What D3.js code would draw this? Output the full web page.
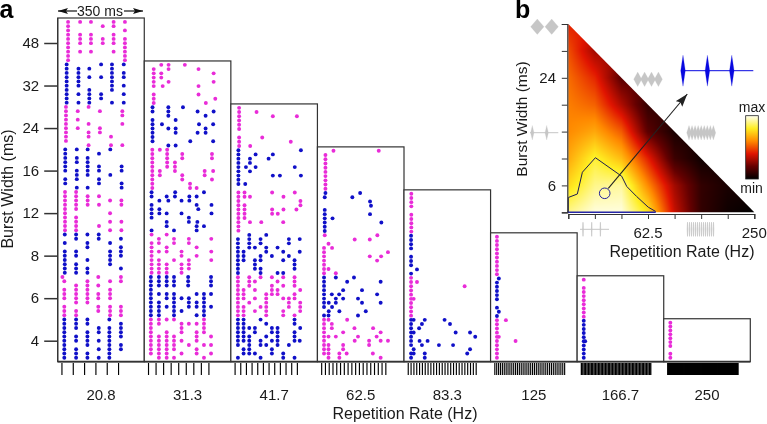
<!DOCTYPE html>
<html><head><meta charset="utf-8">
<script src="https://cdn.jsdelivr.net/npm/d3@7/dist/d3.min.js"></script>
<style>html,body{margin:0;padding:0;background:#fff}
#w{position:relative;width:767px;height:424px;overflow:hidden}
canvas,svg{position:absolute;left:0;top:0}
text{font-family:"Liberation Sans",Arial,sans-serif;fill:#1a1a1a}</style></head>
<body><div id="w"></div>
<script>
// ---- data ----
const rateLabels=["20.8","31.3","41.7","62.5","83.3","125","166.7","250"];
const periodsMs=[48,32,24,16,12,8,6,4];
const pulseCounts=[6,9,12,18,25,38,50,75];
const bandCounts=[8,7,6,5,4,3,2,1];
const widthTicks=[4,6,8,12,16,24,32,48];
// each row: [trial row counted from the bottom, spike times in ms...]
const spikes208=[[79,44,95,141,237,285],[78,44,191,237],[77,44,285],[76,44,95,141,237],[75,44,95,141,191,237,285],[74,44,95,141,191,237,285],[73,44,285],[72,44,95,141,237,285],[71,44,285],[70,44,285],
[69,38,184,230,280],[68,38,88,134,230],[67,38,88,230,280],[66,38,88,134,184,230,280],[65,38,88,230],[64,38,88,230,280],[63,38,134,230],[62,38,88,134,184,280],[61,38,134,184],[60,38,88,134,230,280],
[59,35,131],[58,35,85,179,274],[57,35,274],[56,35,85],[55,35,131,274],[54,35,85,179],[53,35,131,179],[52,35,131,226],[51,35],[50,131,226,274],
[49,32,81,127,223],[48,32,175],[47,32,81,127],[46,32,81,127],[45,32,127,175,271],[44,32,81,127,175,271],[43,81,127,223],[42,32,81,175],[41,32,175,271],[40,81,127,271],
[39,31,78],[38,31,78,127,175],[37,31,78,127,222,270],[36,31,78,127,175,270],[35,31,78],[34,31,222],[33,31,78],[32,31,78,222,270],[31,31,78,175],[30,31,78,222,270],
[29,30,78,126,174],[28,78,174,268],[27,30,126,222],[26,126,268],[25,30,78,222,268],[24,30,78,222,268],[23,30,126,222],[22,30,78,222],[21,30,78,126,268],[20,30,78,126],
[19,20,172,268],[18,28,126,222,268],[17,78,126,172],[16,28,78,126,222],[15,28,78,126,172,222],[14,28,78,126,172,222],[13,78,126],[12,28,172,222,268],[11,28,78,172,222,268],[10,28,78,222,268],
[9,28,78,126,219],[8,28,78,126,268],[7,28,78,174,219,268],[6,28,126,174,219,268],[5,28,78,126,219,268],[4,28,78,126,174,219],[3,28,126,219,268],[2,28,78,174,219,268],[1,28,78,126,219],[0,28,78,126,174,219]];
const spikes313=[[69,72,103,172],[68,40,103,230],[67,40,72,294],[66,40,72],[65,40,103,294],[64,40,78,230],[62,40,230],[61,40,301],[60,40,261],
[59,35,102,164],[58,35,102,226,294],[57,102,260],[56,35,133],[55,35,75,232,292],[54,35,102,133,260],[53,35,133,226,260],[52,35],[51,35,195,292],[50,102,133],
[49,34,66,97],[48,34,97,161,287],[47,34,97,161,287],[46,34,97,130],[45,34,97,130],[44,34,66,130,256,292],[43,34,66,161,256],[42,34,161,287],[41,34,194],[40,34,194,222],
[39,31,131,253],[38,31,95,130,191,222],[37,64,102,158,191],[36,31,222,285],[35,31,64,229],[34,31,64,95,158,285],[33,31,189],[32,95,189,225],[31,95,222,253],[30,31,126,222],
[29,31,95],[28,62,126,189,284],[27,31,62,126,189],[26,31,95,222],[25,31,62,95,158,284],[24,31,158,222],[23,31,62,126,189,284],[22,31,62,95,158,189],[21,31,62,95,158,189],[20,31,62,95,158],
[19,28,62,95,126,186,283],[18,28,62,95,126,186,283],[17,28,62,95,126,186,283],[16,28],[15,28,62,95,126,222,253,283],[14,28,95,126,158,189,253],[13,28,62,126,189,222,253],[12,28,62,95,126,189,222,253,283],[11,28,62,126,158,253],[10,28,62,126,222,253],
[9,28,62,95,126,253],[8,28,62,158,189,222,253],[7,28,158,253],[6,28,95,158,222,253],[5,28,62,95,126,222,283],[4,28,62,95,126,158,222],[3,28,62,95,126,189,253,283],[2,28,62,95,126,222],[1,28,62,95,158,222,283],[0,62,95,126,253]];
const spikes417=[[59,35],[58,35,109],[57,35,178,280],[56,35],[55,35],[54,35],[52,35,133],[51,35,254],[50,35,82],
[49,32,297],[48,32,105,178],[47,32,81,160],[46,32,81],[45,32,64,105,271],[44,32,81],[43,32,178,208,297],[42,32],[41,32,61],
[39,32,58,175,271],[38,32,58,81,223],[37,32,295],[36,32,58,295],[35,32,58,175,223,278],[34,32,58,175,199],[33,32,58],[32,32,81,129,222],[31,32],[30,32],
[29,78,150],[28,30,78,126,246,292],[27,30,78,126,246],[26,30,78,102,150,198],[25,30,54,150,222,292],[24,30,54,126,174,246],[23,30,54,102,126,222,270],[22,30,102,270],[21,30,102,126,270],[20,30,126,198,222],
[19,30,78,126,174,222,270],[18,30,78,102,198,270],[17,30,78,174,222,270],[16,30,54,102,174,198,294],[15,30,54,150,174,198,270],[14,30,54,102,150,222,246,270],[13,30,78,150,246,294],[12,30,54,126,150,246,294],[11,30,54,102,150,222,294],[10,30,54,150,222,270],
[9,30,54,126,270],[8,30,54,150,270],[7,30,54,78,102,174,198,294],[6,30,54,102,174,198,270],[5,30,54,78,150,198,270],[4,30,54,78,126,174,198,270,292],[3,30,78,126,150,198,246],[2,54,78,174],[1,54,78,102,174,222],[0,30,126,222,270]];
const spikes625=[[49,68,260],[48,34],[47,34],[46,34],[45,34],[44,34],[43,34],[42,34],[41,34],[40,34],
[39,34,181],[38,31,148],[37,223],[36,227],[35,31],[34,31,223],[33,31,64],[32,31,271],[31,31],[30,31],
[29,31,254],[28,158,222],[27,47],[26,28,62],[25,28,299],[24,28,222,270],[23,28,253],[22,28],[21,28,47],[20,28,78],
[19,28,78,155],[18,28,126,268],[17,28],[16,28,109,189],[15,28,61,92,253],[14,28,78,109,172],[13,28,48,78,189,268],[12,28,62],[11,48,93,205],[10,28,47,172],
[9,28,47,126],[8,28,61],[7,28,61,157,236],[6,28,109,268],[5,28,47,78,172,251],[4,28,158,219,268,299],[3,28,47,109,219],[2,28,47,109],[1,28,47,93,124,235],[0,47,93,268]];
const spikes833=[[39,31],[38,31],[37,31],[36,31],[34,31],[33,31],[32,31],[31,31],[30,31],
[29,30],[28,30],[27,30],[26,30],[24,30],[23,30],[22,30],[21,55],[20,30],
[19,30],[18,30,55],[17,30,257],[16,30],[15,30],[14,30,41],[13,30],[12,30],[11,30],[10,30],
[9,30,41,88,172],[8,30,76,195],[7,30,64],[6,30,41,219,280],[5,30,302],[4,30,66,100],[3,30,76,148,208],[2,41,280],[1,30,41,88,268],[0,30,88]];
const spikes125=[[29,27],[28,27],[27,27],[26,27],[25,27],[24,27],[23,27],[22,27],[21,27],[20,27],
[19,35],[18,27],[17,27],[16,27],[15,27],[14,27],[12,27],[11,35],[10,27],
[9,27,65],[8,27],[7,27],[6,27],[5,27,35],[4,27,106],[3,27],[2,27],[1,27],[0,27]];
const spikes1667=[[19,28],[17,28],[16,28],[15,28],[14,28],[13,28],[12,28],[11,28],[10,28],
[9,28],[8,28],[7,28],[6,28],[5,28],[4,28,34],[3,28],[2,28],[1,28],[0,28]];
const spikes250=[[9,28],[8,28],[7,28],[6,28],[5,28],[4,28],[3,28],[1,28],[0,28]];
const allSpikes=[spikes208,spikes313,spikes417,spikes625,spikes833,spikes125,spikes1667,spikes250];
// response map: heat[w][r], burst-width index from the bottom, repetition-rate index
const heat=[[.90,.98,.98,.78,.36,.10,.03,0],
[.76,.90,.92,.60,.30,.10,.05],
[.66,.82,.70,.42,.12,.03],
[.60,.66,.52,.18,.05],
[.58,.53,.32,.10],
[.55,.43,.18],
[.50,.30],
[.42]];
const contourRate=[0,0,.34,.53,1.02,2.01,2.2,2.57,3.01,3.29];
const contourWidth=[0,.55,.68,1.49,2.03,1.34,.96,.59,.19,.03];

// ---- layout ----
const W=767,H=424;
const wrap=d3.select("#w");
const canvas=wrap.append("canvas").attr("width",W).attr("height",H);
const svg=wrap.append("svg").attr("width",W).attr("height",H);
const ink="#333", magenta="#e92cd8", blue="#1010c8";
const plotL=57.7,plotR=750.3,plotB=361.7;
const xBand=d3.scaleBand().domain(rateLabels).range([plotL,plotR]);
const yBands=d3.scaleLinear().domain([0,8]).range([plotB,18]);
const yTicks=d3.scalePoint().domain(widthTicks).range([340.7,43]);

// ---- panel a ----
const msScale=d3.scaleLinear().domain([0,367]).range([0,xBand.bandwidth()]);
rateLabels.forEach((lab,p)=>{
  const g=svg.append("g").attr("transform",`translate(${xBand(lab)},0)`);
  const n=bandCounts[p];
  const boxTop=yBands(n);
  g.append("rect").attr("x",0).attr("y",boxTop).attr("width",xBand.bandwidth()).attr("height",plotB-boxTop)
    .attr("fill","#fff").attr("stroke",ink).attr("stroke-width",1.2);
  const rowY=d3.scaleLinear().domain([0,n*10-1]).range([357.7,boxTop+3.9]);
  const pts=allSpikes[p].flatMap(row=>row.slice(1).map(ms=>({row:row[0],ms})));
  g.selectAll("circle").data(pts).join("circle")
    .attr("cx",d=>msScale(d.ms)).attr("cy",d=>rowY(d.row)).attr("r",1.95)
    .attr("fill",d=>((n-1-Math.floor(d.row/10))%2===0)?magenta:blue);
  const pulses=d3.range(pulseCounts[p]).map(k=>18+k*periodsMs[p]);
  g.selectAll("line.pulse").data(pulses).join("line").attr("class","pulse")
    .attr("x1",d=>msScale(d)).attr("x2",d=>msScale(d)).attr("y1",363).attr("y2",375)
    .attr("stroke","#000").attr("stroke-width",p===7?1.8:p===6?1.35:1.15);
});
svg.append("line").attr("x1",plotL).attr("x2",plotR).attr("y1",plotB).attr("y2",plotB).attr("stroke",ink).attr("stroke-width",1.8);
svg.append("line").attr("x1",plotL).attr("x2",plotL).attr("y1",18).attr("y2",plotB).attr("stroke",ink).attr("stroke-width",1.2);

const axL=svg.append("g").attr("transform",`translate(${plotL},0)`).call(d3.axisLeft(yTicks).tickSize(13.5).tickPadding(5));
axL.select(".domain").remove();
axL.selectAll("line").attr("stroke",ink).attr("stroke-width",1.5);
axL.selectAll("text").attr("font-size",15);
const axB=svg.append("g").attr("transform",`translate(0,385)`).call(d3.axisBottom(xBand).tickSize(0).tickPadding(0));
axB.select(".domain").remove();
axB.selectAll("text").attr("font-size",15).attr("dy",0).attr("y",15);

const title=(x,y,s,rot,size=16)=>svg.append("text").attr("text-anchor","middle")
  .attr("transform",`translate(${x},${y})${rot?" rotate(-90)":""}`).attr("font-size",size).text(s);
title(405,419,"Repetition Rate (Hz)");
title(13,189,"Burst Width (ms)",true);
svg.append("text").attr("x",-0.5).attr("y",18).attr("font-size",25).attr("font-weight","bold").style("fill","#000").text("a");
svg.append("text").attr("x",515).attr("y",17.5).attr("font-size",25).attr("font-weight","bold").style("fill","#000").text("b");
svg.append("text").attr("x",100).attr("y",16).attr("text-anchor","middle").attr("font-size",14).text("350 ms");
const defs=svg.append("defs");
const mk=defs.append("marker").attr("id","h").attr("viewBox","0 0 10 6").attr("refX",10).attr("refY",3)
  .attr("markerWidth",10).attr("markerHeight",6).attr("markerUnits","userSpaceOnUse").attr("orient","auto-start-reverse");
mk.append("path").attr("d","M0 0L10 3L0 6L2 3Z").attr("fill","#111");
svg.append("line").attr("x1",58).attr("x2",77).attr("y1",11).attr("y2",11).attr("stroke","#111").attr("stroke-width",1.2).attr("marker-start","url(#h)");
svg.append("line").attr("x1",124).attr("x2",143).attr("y1",11).attr("y2",11).attr("stroke","#111").attr("stroke-width",1.2).attr("marker-end","url(#h)");

// ---- panel b ----
const hx=d3.scaleLinear().domain([0,7]).range([568.3,754.3]);
const hy=d3.scaleLinear().domain([0,7]).range([212.3,24]);
const hotStops=[0,.2,.4,.6,.8,1], hotCols=["#000000","#640000","#e01400","#ff8a00","#ffee22","#fffff2"];
const hot=d3.scaleLinear().domain(hotStops).range(hotCols).clamp(true);
const val=(r,w)=>{const W2=Math.min(w,7);const row=heat[W2];return row[Math.min(r,row.length-1)];};
const ctx=canvas.node().getContext("2d");
ctx.beginPath();ctx.moveTo(hx(0),hy(7));ctx.lineTo(hx(0),hy(0));ctx.lineTo(hx(7),hy(0));ctx.closePath();ctx.clip();
for(let px=Math.floor(hx(0));px<=hx(7);px++)for(let py=Math.floor(hy(7));py<=hy(0);py++){
  const u=Math.max(0,hx.invert(px+.5)),v=Math.max(0,hy.invert(py+.5));
  const i=Math.min(6,Math.floor(u)),j=Math.min(6,Math.floor(v)),a=u-i,b=v-j;
  const s=d3.interpolateNumber(d3.interpolateNumber(val(i,j),val(i+1,j))(a),d3.interpolateNumber(val(i,j+1),val(i+1,j+1))(a))(b);
  ctx.fillStyle=hot(s);ctx.fillRect(px,py,1,1);
}
svg.append("path").attr("d",d3.line().x(d=>hx(d[0])).y(d=>hy(d[1]))(d3.zip(contourRate,contourWidth)))
  .attr("fill","none").attr("stroke","#1c1c52").attr("stroke-width",1);
svg.append("line").attr("x1",hx(0)-1).attr("x2",hx(3.29)).attr("y1",hy(0)).attr("y2",hy(0)).attr("stroke","#2626a8").attr("stroke-width",1.5);
svg.append("circle").attr("cx",604.7).attr("cy",193.3).attr("r",5.3).attr("fill","none").attr("stroke","#22229a");
const mk2=defs.append("marker").attr("id","h2").attr("viewBox","0 0 12 8").attr("refX",12).attr("refY",4)
  .attr("markerWidth",13).attr("markerHeight",9).attr("markerUnits","userSpaceOnUse").attr("orient","auto");
mk2.append("path").attr("d","M0 0L12 4L0 8L2 4Z").attr("fill","#222");
svg.append("line").attr("x1",608.3).attr("y1",188.3).attr("x2",687.3).attr("y2",94).attr("stroke","#222").attr("stroke-width",1.1).attr("marker-end","url(#h2)");

const axHL=svg.append("g").attr("transform",`translate(${hx(0)-1},0)`).call(d3.axisLeft(hy).ticks(8).tickFormat("").tickSize(5.5));
const axHB=svg.append("g").attr("transform",`translate(0,${hy(0)+1.7})`).call(d3.axisBottom(hx).ticks(8).tickFormat("").tickSize(5));
[axHL,axHB].forEach(a=>{a.selectAll("line").attr("stroke",ink);a.select(".domain").attr("stroke",ink).attr("stroke-width",1.2);});
const heatRateIndex=[3,7], heatWidthIndex=[1,5];
svg.selectAll("text.hr").data(heatRateIndex).join("text").attr("class","hr").attr("x",d=>hx(d)).attr("y",238)
  .attr("text-anchor","middle").attr("font-size",15).text(d=>rateLabels[d]);
svg.selectAll("text.hw").data(heatWidthIndex).join("text").attr("class","hw").attr("x",556).attr("y",d=>hy(d)+5.5)
  .attr("text-anchor","end").attr("font-size",15).text(d=>widthTicks[d]);
title(527,119,"Burst Width (ms)",true,15.5);
title(682,257,"Repetition Rate (Hz)",false,16);

// stimulus icons
const icon=(x0,step,n,y,hw,hh,col,line)=>{
  if(line) svg.append("line").attr("x1",line[0]).attr("x2",line[1]).attr("y1",y).attr("y2",y).attr("stroke",col).attr("stroke-width",1);
  d3.range(n).forEach(k=>{const c=x0+k*step;
    svg.append("path").attr("d",`M${c-hw} ${y}L${c} ${y-hh}L${c+hw} ${y}L${c} ${y+hh}Z`).attr("fill",col).attr("stroke",col).attr("stroke-width",hw<1?.7:.2);});
};
const g1="#c6c6c6";
icon(537.3,14.4,2,26.7,6.7,7.7,g1);
icon(637.7,6.9,4,79.3,4,7.3,g1);
icon(532.3,14.4,2,132.7,1.7,7.3,g1,[530,558.3]);
icon(689,3.05,9,132.7,2.3,7.3,g1);
icon(583,8.7,3,229.3,.3,7,g1,[580,609]);
icon(687.5,2,14,229.3,.3,7,g1);
icon(683,24.4,3,70.7,2.3,15.5,"#0808e0",[682.7,753.3]);

// colour key
const lg=defs.append("linearGradient").attr("id","key").attr("x1",0).attr("x2",0).attr("y1",1).attr("y2",0);
hotStops.forEach((s,i)=>lg.append("stop").attr("offset",s).attr("stop-color",hotCols[i]));
svg.append("rect").attr("x",745.7).attr("y",115.7).attr("width",12.6).attr("height",63.3).attr("fill","url(#key)").attr("stroke","#222").attr("stroke-width",.8);
svg.append("text").attr("x",752).attr("y",112).attr("text-anchor","middle").attr("font-size",14).text("max");
svg.append("text").attr("x",751.5).attr("y",193).attr("text-anchor","middle").attr("font-size",14).text("min");
</script></body></html>
